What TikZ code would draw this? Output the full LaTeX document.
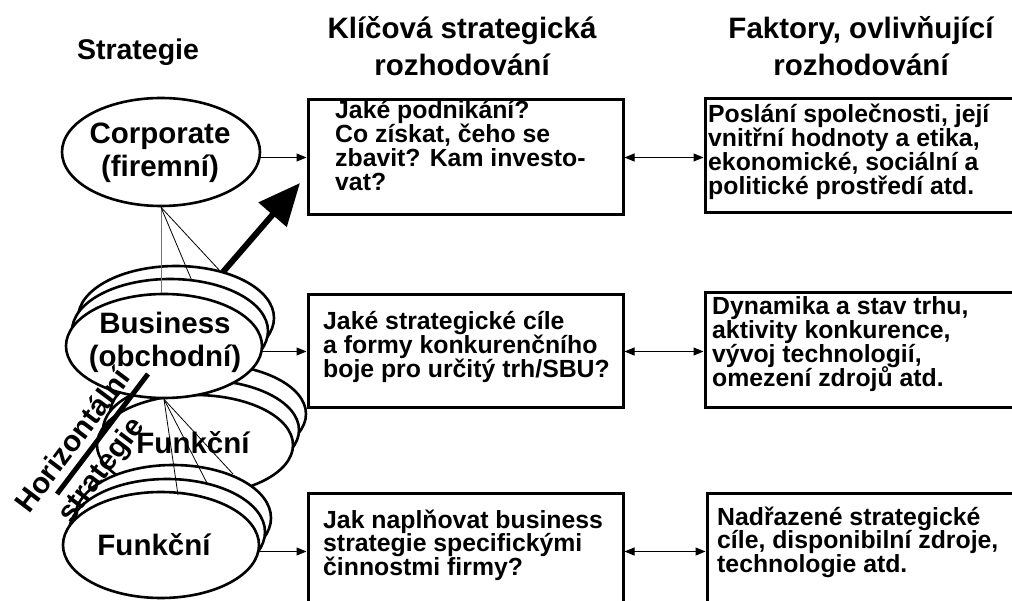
\documentclass[tikz,border=0pt]{standalone}
\usepackage{fontspec}
\setmainfont{Liberation Sans}
\usetikzlibrary{shapes.geometric,arrows.meta}
\newcommand\mlines[1]{\vtop{\lineskiplimit=-50pt\lineskip=0pt\halign{##\hfil\cr#1\crcr}}}
\newcommand\mlinesc[1]{\vtop{\lineskiplimit=-50pt\lineskip=0pt\halign{\hfil##\hfil\cr#1\crcr}}}
\begin{document}
\begin{tikzpicture}[x=1pt,y=-1pt,
  ell/.style={ellipse,draw,line width=2.6pt,fill=white,inner sep=0pt,minimum width=196pt},
  lbl/.style={inner sep=0pt,align=center,font=\fontsize{29.5}{33}\selectfont\bfseries},
  box/.style={draw,line width=3pt,rectangle,inner sep=0pt},
  txt/.style={anchor=base west,inner sep=0pt,font=\fontsize{24.8}{23.7}\selectfont\bfseries},
  hd/.style={anchor=base,inner sep=0pt,font=\fontsize{29.5}{37}\selectfont\bfseries},
  fan/.style={line width=0.8pt},
  tip/.style={-{Triangle[length=10pt,width=8pt]},line width=1pt},
  dtip/.style={{Triangle[length=10pt,width=8pt]}-{Triangle[length=10pt,width=8pt]},line width=1pt}
]
\useasboundingbox (0,0) rectangle (1012,601);

% headers
\node[hd,font=\fontsize{28.5}{37}\selectfont\bfseries] (h1) at (138,60) {Strategie};
\node[hd] (h2) at (462,39) {\mlinesc{Klíčová strategická\cr rozhodování}};
\node[hd] (h3) at (861,39) {\mlinesc{Faktory, ovlivňující\cr rozhodování}};

% corporate
\node[ell,minimum width=198pt,minimum height=108pt] (corp) at (161,152) {};
\node[lbl] (corpl) at (160,153) {Corporate\\(firemní)};

% middle functional stack
\node[ell,minimum height=100pt] (mid3) at (208,414) {};
\node[ell,minimum height=100pt] (mid2) at (201,430) {};
\node[ell,minimum height=100pt] (mid1) at (195,445) {};
\node[lbl] (mid1l) at (193,443) {Funkční};

% business stack
\node[ell,minimum height=104pt] (bus3) at (176,318) {};
\node[ell,minimum height=104pt] (bus2) at (170,331) {};
\node[ell,minimum height=104pt] (bus1) at (164,346) {};
\node[lbl] (bus1l) at (165,342) {Business\\(obchodní)};

% bottom functional stack
\node[ell,minimum height=106pt] (fun3) at (173,518) {};
\node[ell,minimum height=106pt] (fun2) at (167,532) {};
\node[ell,minimum height=106pt] (fun1) at (161,545) {};
\node[lbl] (fun1l) at (154,545) {Funkční};

% fan lines
\coordinate (cA) at (192,281);
\coordinate (cB) at (221,272);
\coordinate (dA) at (178,495);
\coordinate (dB) at (208,485);
\coordinate (dC) at (233,474);
\draw[fan,black!55] (corp.south) -- (corp.south |- bus1.north);
\draw[fan] (corp.south) -- (cA);
\draw[fan] (corp.south) -- (cB);
\draw[fan] (bus1.south) -- (dA);
\draw[fan] (bus1.south) -- (dB);
\draw[fan] (bus1.south) -- (dC);

% thick arrow
\coordinate (aS) at (223,272);
\coordinate (aE) at (300,183);
\draw[line width=6pt,-{Triangle[length=42pt,width=36pt]}] (aS) -- (aE);

% horizontal strategy
\coordinate (hA) at (148,374);
\coordinate (hB) at (57,494);
\draw[line width=5pt] (hA) -- (hB);
\node[lbl,rotate=53] (hz1) at (72,440) {Horizontální};
\node[lbl,rotate=53] (hz2) at (102,471) {strategie};

% decision boxes
\node[box,minimum width=315pt,minimum height=115pt] (b1) at (465.5,157.5) {};
\node[box,minimum width=315pt,minimum height=113pt] (b2) at (465.5,351.5) {};
\node[box,minimum width=315pt,minimum height=117pt] (b3) at (465.5,551.5) {};
\node[txt] (t1) at (335,119) {\mlines{Jaké podnikání?\cr Co získat, čeho se\cr zbavit? Kam investo-\cr vat?}};
\node[txt] (t2) at (323,330) {\mlines{Jaké strategické cíle\cr a formy konkurenčního\cr boje pro určitý trh/SBU?}};
\node[txt] (t3) at (323,528) {\mlines{Jak naplňovat business\cr strategie specifickými\cr činnostmi firmy?}};

% factor boxes
\node[box,minimum width=325pt,minimum height=114pt] (f1) at (867.5,156) {};
\node[box,minimum width=325pt,minimum height=115pt] (f2) at (867.5,350.5) {};
\node[box,minimum width=323pt,minimum height=117pt] (f3) at (868.5,551.5) {};
\node[txt] (u1) at (708,123) {\mlines{Poslání společnosti, její\cr vnitřní hodnoty a etika,\cr ekonomické, sociální a\cr politické prostředí atd.}};
\node[txt] (u2) at (712,315) {\mlines{Dynamika a stav trhu,\cr aktivity konkurence,\cr vývoj technologií,\cr omezení zdrojů atd.}};
\node[txt] (u3) at (717,525) {\mlines{Nadřazené strategické\cr cíle, disponibilní zdroje,\cr technologie atd.}};

% arrows
\draw[tip] (b1.west -| corp.east) -- (b1.west);
\draw[tip] (b2.west -| bus1.east) -- (b2.west);
\draw[tip] (b3.west -| fun1.east) -- (b3.west);
\draw[dtip] (b1.east) -- (b1.east -| f1.west);
\draw[dtip] (b2.east) -- (b2.east -| f2.west);
\draw[dtip] (b3.east) -- (b3.east -| f3.west);
\end{tikzpicture}
\end{document}
